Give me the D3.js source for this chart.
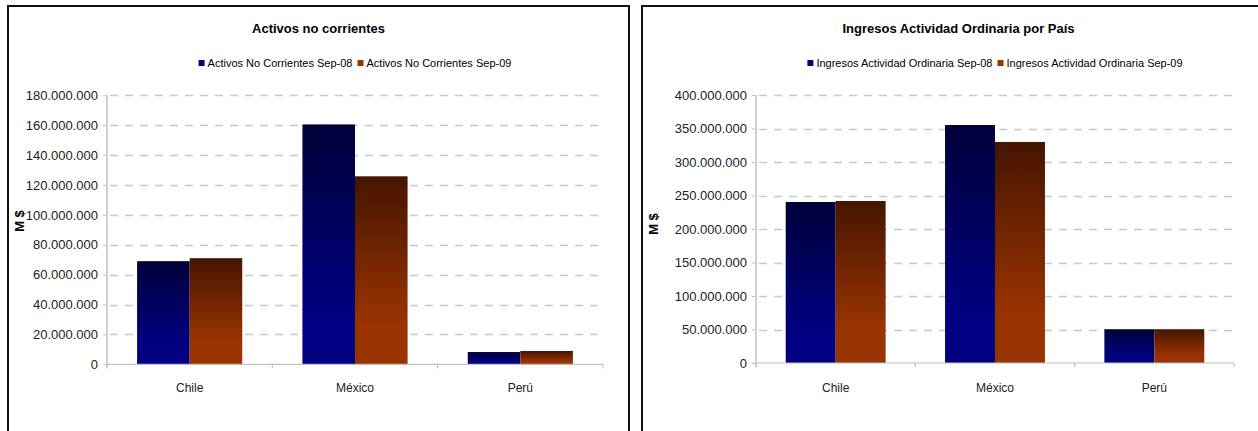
<!DOCTYPE html>
<html>
<head>
<meta charset="utf-8">
<script src="https://cdn.jsdelivr.net/npm/d3@7"></script>
<style>
  html, body { margin: 0; padding: 0; background: #fff; }
  svg { display: block; font-family: "Liberation Sans", Arial, sans-serif; }
</style>
</head>
<body>
<svg id="chart" width="1258" height="431"></svg>
<script>
// Countries shown on the x axis of both panels
const categories = ["Chile", "México", "Perú"];

// Non-current assets (M$)
const activosTitle = "Activos no corrientes";
const activosSeries = ["Activos No Corrientes Sep-08", "Activos No Corrientes Sep-09"];
const activosSep08 = [69000000, 160500000, 8200000];
const activosSep09 = [71000000, 125800000, 8900000];
const activosTicks = [0, 20000000, 40000000, 60000000, 80000000, 100000000, 120000000, 140000000, 160000000, 180000000];

// Ordinary revenue by country (M$)
const ingresosTitle = "Ingresos Actividad Ordinaria por País";
const ingresosSeries = ["Ingresos Actividad Ordinaria Sep-08", "Ingresos Actividad Ordinaria Sep-09"];
const ingresosSep08 = [240300000, 355200000, 50400000];
const ingresosSep09 = [241800000, 329900000, 50400000];
const ingresosTicks = [0, 50000000, 100000000, 150000000, 200000000, 250000000, 300000000, 350000000, 400000000];

const yLabel = "M $";

const svg = d3.select("#chart");
const fmt = d3.formatLocale({ decimal: ",", thousands: ".", grouping: [3], currency: ["$", ""] }).format(",d");

// Vertical gradients for the two series (dark at the top, bright at the bottom)
const defs = svg.append("defs");
const gradients = [
  { id: "gradBlue", top: "#000038", bottom: "#000080", legend: "#000080" },
  { id: "gradBrown", top: "#451500", bottom: "#993300", legend: "#993300" }
];
gradients.forEach(g => {
  const lg = defs.append("linearGradient").attr("id", g.id)
    .attr("x1", 0).attr("y1", 0).attr("x2", 0).attr("y2", 1);
  lg.append("stop").attr("offset", "0%").attr("stop-color", g.top);
  lg.append("stop").attr("offset", "78%").attr("stop-color", g.bottom);
  lg.append("stop").attr("offset", "100%").attr("stop-color", g.bottom);
});

function drawPanel(cfg) {
  const g = svg.append("g");

  // Panel frame
  g.append("rect")
    .attr("x", cfg.frame[0]).attr("y", cfg.frame[1])
    .attr("width", cfg.frame[2] - cfg.frame[0]).attr("height", cfg.frame[3] - cfg.frame[1])
    .attr("fill", "#fff").attr("stroke", "#111").attr("stroke-width", 2);

  // Title
  g.append("text")
    .attr("x", (cfg.frame[0] + cfg.frame[2]) / 2).attr("y", 33)
    .attr("text-anchor", "middle")
    .attr("font-size", 13).attr("font-weight", "bold").attr("fill", "#000")
    .text(cfg.title);

  const y = d3.scaleLinear().domain([0, cfg.max]).range([cfg.plot.bottom, cfg.plot.top]);
  const x = d3.scaleBand().domain(categories)
    .range([cfg.plot.left, cfg.plot.right])
    .paddingInner(cfg.pad).paddingOuter(cfg.pad / 2);
  const xs = d3.scaleBand().domain([0, 1]).range([0, x.bandwidth()]);

  // Dashed horizontal gridlines
  g.append("g").selectAll("line")
    .data(cfg.ticks.filter(d => d > 0))
    .join("line")
    .attr("x1", cfg.plot.left + 3).attr("x2", cfg.plot.right)
    .attr("y1", d => Math.round(y(d)) + 0.5).attr("y2", d => Math.round(y(d)) + 0.5)
    .attr("stroke", "#c8c8c8").attr("stroke-width", 1.3)
    .attr("stroke-dasharray", "8,7");

  // Y axis
  const yAxis = d3.axisLeft(y).tickValues(cfg.ticks).tickFormat(fmt).tickSize(4).tickPadding(cfg.tickPad);
  const ya = g.append("g").attr("transform", `translate(${cfg.plot.left},0)`).call(yAxis);
  ya.select(".domain").remove();
  ya.selectAll(".tick line").attr("stroke", "#c0c0c0");
  ya.selectAll(".tick text").attr("font-size", 13).attr("fill", "#222")
    .attr("font-family", "'Liberation Sans', Arial, sans-serif");
  g.append("line")
    .attr("x1", cfg.plot.left).attr("x2", cfg.plot.left)
    .attr("y1", cfg.plot.top).attr("y2", cfg.plot.bottom + 4)
    .attr("stroke", "#cfcfcf").attr("stroke-width", 2);

  // Bars
  const series = [cfg.s08, cfg.s09];
  series.forEach((vals, si) => {
    g.append("g").selectAll("rect")
      .data(categories.map((c, i) => ({ c, v: vals[i] })))
      .join("rect")
      .attr("x", d => x(d.c) + xs(si))
      .attr("width", xs.bandwidth())
      .attr("y", d => y(d.v))
      .attr("height", d => y(0) - y(d.v))
      .attr("fill", `url(#${gradients[si].id})`);
  });

  // X axis line and category separators
  g.append("line")
    .attr("x1", cfg.plot.left).attr("x2", cfg.plot.right)
    .attr("y1", y(0)).attr("y2", y(0))
    .attr("stroke", "#c0c0c0").attr("stroke-width", 1.2);
  const bounds = d3.range(categories.length + 1).map(i => cfg.plot.left + x.paddingOuter() * x.step() - x.paddingInner() * x.step() / 2 + i * x.step());
  g.append("g").selectAll("line")
    .data(bounds)
    .join("line")
    .attr("x1", d => d).attr("x2", d => d)
    .attr("y1", y(0)).attr("y2", y(0) + 4)
    .attr("stroke", "#c0c0c0").attr("stroke-width", 1.2);

  // Category labels
  g.append("g").selectAll("text")
    .data(categories)
    .join("text")
    .attr("x", d => x(d) + x.bandwidth() / 2)
    .attr("y", 392)
    .attr("text-anchor", "middle")
    .attr("font-size", 12).attr("fill", "#222")
    .text(d => d);

  // Y axis title
  g.append("text")
    .attr("transform", `translate(${cfg.yLabelX},${cfg.yLabelY}) rotate(-90)`)
    .attr("text-anchor", "middle")
    .attr("font-size", 13).attr("font-weight", "bold").attr("fill", "#000")
    .text(yLabel);

  // Legend, centred over the plot area
  const leg = g.append("g");
  let cx = 0;
  cfg.series.forEach((name, si) => {
    leg.append("rect").attr("x", cx).attr("y", 60).attr("width", 6).attr("height", 6)
      .attr("fill", gradients[si].legend);
    const t = leg.append("text").attr("x", cx + 9).attr("y", 67)
      .attr("font-size", 11).attr("fill", "#000").text(name);
    cx += 9 + t.node().getComputedTextLength() + 5;
  });
  const legW = cx - 5;
  const mid = (cfg.plot.left + cfg.plot.right) / 2;
  leg.attr("transform", `translate(${mid - legW / 2},0)`);
}

drawPanel({
  frame: [8, 6, 629, 445],
  title: activosTitle,
  series: activosSeries,
  s08: activosSep08, s09: activosSep09,
  ticks: activosTicks, max: 180000000,
  plot: { left: 107, right: 603, top: 95.3, bottom: 364.3 },
  pad: 0.364, tickPad: 5,
  yLabelX: 24, yLabelY: 221
});

drawPanel({
  frame: [642, 6, 1275, 445],
  title: ingresosTitle,
  series: ingresosSeries,
  s08: ingresosSep08, s09: ingresosSep09,
  ticks: ingresosTicks, max: 400000000,
  plot: { left: 756, right: 1234, top: 95, bottom: 363 },
  pad: 0.373, tickPad: 5,
  yLabelX: 658, yLabelY: 224
});
</script>
</body>
</html>
